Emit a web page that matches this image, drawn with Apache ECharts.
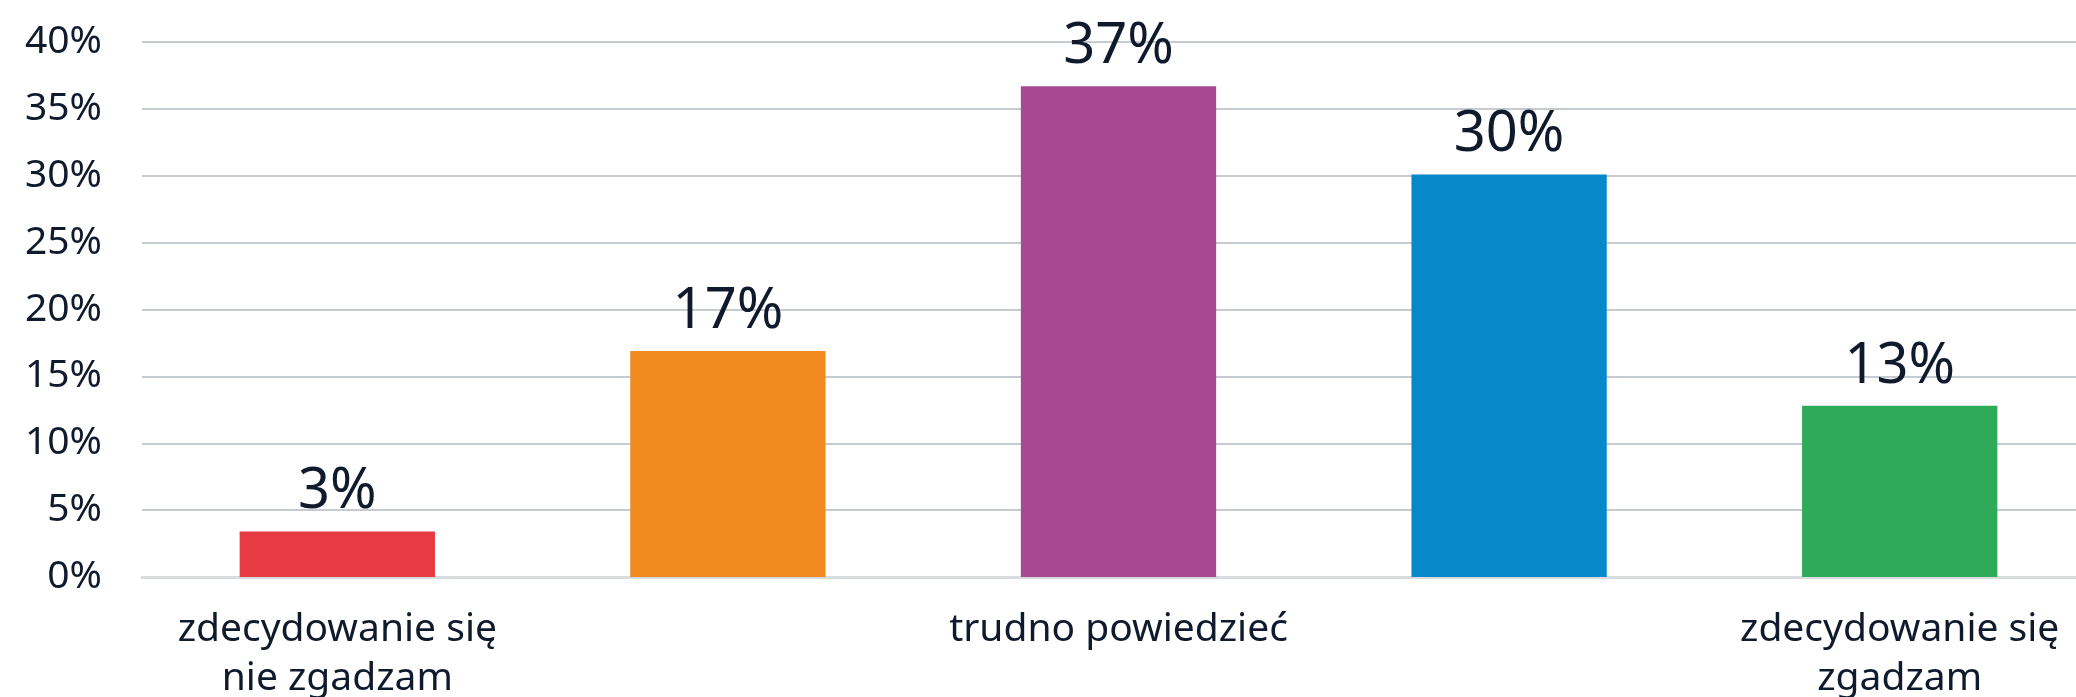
<!DOCTYPE html>
<html>
<head>
<meta charset="utf-8">
<script src="https://cdn.jsdelivr.net/npm/echarts@6/dist/echarts.min.js"></script>
<style>
  html, body { margin: 0; padding: 0; background: #fff; }
  #chart { width: 2076px; height: 697px; }
</style>
</head>
<body>
<div id="chart"></div>
<script>
var categories = ['zdecydowanie się\nnie zgadzam', '', 'trudno powiedzieć', '', 'zdecydowanie się\nzgadzam'];
var values = [3.4, 16.9, 36.7, 30.1, 12.8];
var barColors = ['#e83a42', '#f08a1f', '#a84893', '#0688c9', '#2eaa59'];
var yTicks = { min: 0, max: 40, interval: 5 };

var textColor = '#0f1a2c';
var fontFamily = '"Noto Sans", sans-serif';

var option = {
    animation: false,
    grid: {
        left: 142,
        right: -19,
        top: 42,
        bottom: 120,
        containLabel: false,
        outerBoundsMode: 'none'
    },
    xAxis: {
        type: 'category',
        data: categories,
        axisLine: { lineStyle: { color: '#d9dcdf', width: 3 } },
        axisTick: { show: false },
        axisLabel: {
            interval: 0,
            margin: 28,
            color: textColor,
            fontFamily: fontFamily,
            fontSize: 39,
            lineHeight: 49
        }
    },
    yAxis: {
        type: 'value',
        min: yTicks.min,
        max: yTicks.max,
        interval: yTicks.interval,
        axisLine: { show: false },
        axisTick: { show: false },
        splitLine: { lineStyle: { color: '#b3bac2', width: 1.5 } },
        axisLabel: {
            formatter: '{value}%',
            margin: 40,
            color: textColor,
            fontFamily: fontFamily,
            fontSize: 39
        }
    },
    series: [
        {
            type: 'bar',
            barWidth: '50%',
            data: values.map(function (v, i) {
                return { value: v, itemStyle: { color: barColors[i] } };
            }),
            label: {
                show: true,
                position: 'top',
                distance: 11,
                color: textColor,
                fontFamily: fontFamily,
                fontSize: 56,
                formatter: function (p) {
                    return Math.round(p.value) + '%';
                }
            }
        }
    ]
};

window.onload = function () {
    var chart = echarts.init(document.getElementById('chart'));
    chart.setOption(option);
};
</script>
</body>
</html>
